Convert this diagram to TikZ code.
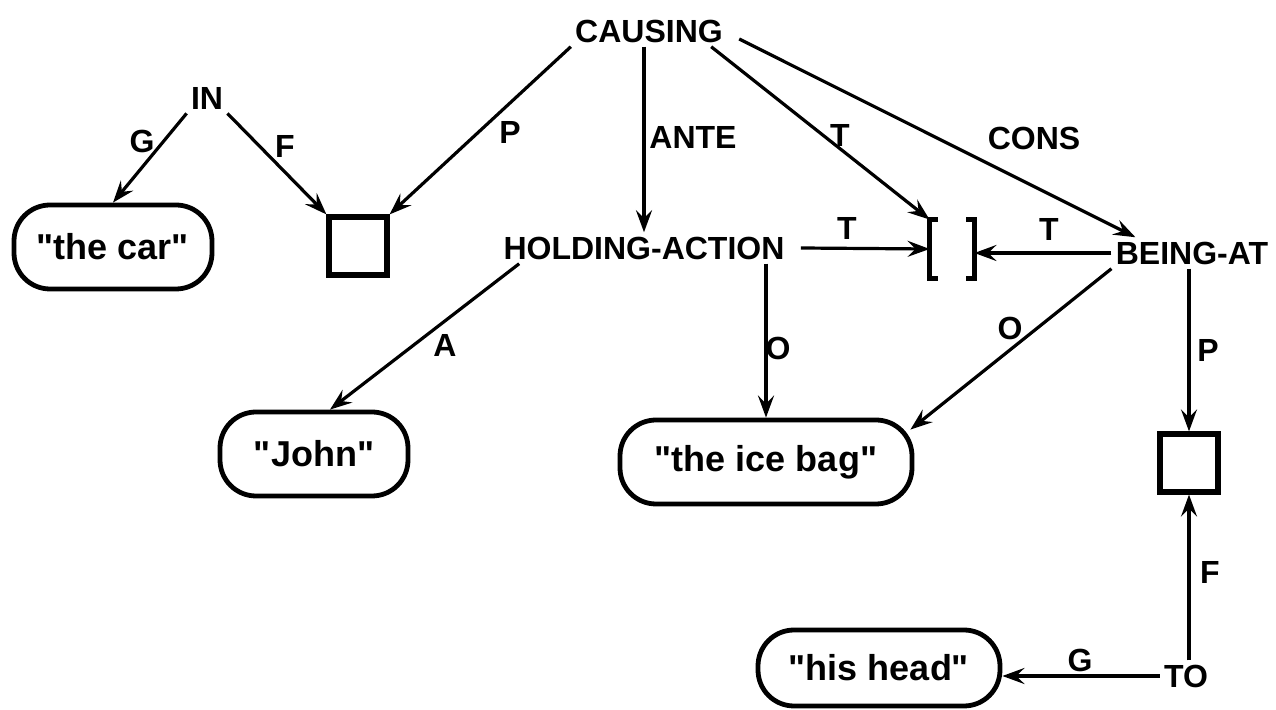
\documentclass[tikz,border=0pt]{standalone}
\usepackage{fontspec}
\setmainfont{Liberation Sans}[Ligatures=TeXOff]
\usetikzlibrary{arrows.meta}
\tikzset{
 word/.style={inner sep=2pt,font=\fontsize{16}{18}\selectfont\bfseries},
 lbl/.style={inner sep=0pt,font=\fontsize{16}{18}\selectfont\bfseries},
 quote/.style={draw,line width=2.4pt,rounded corners=18pt,minimum height=42pt,font=\fontsize{18}{20}\selectfont\bfseries},
 slot/.style={draw,line width=2.6pt,minimum size=29pt,inner sep=0pt},
 link/.style={line width=1.6pt,-{Stealth[length=11pt,width=8pt,inset=4pt]}}
}
\begin{document}
\begin{tikzpicture}[x=0.5pt,y=-0.5pt]
 \useasboundingbox (0,0) rectangle (1276,710);
 \node[word] (causing) at (649,31) {CAUSING};
 \node[word] (in) at (207,98) {IN};
 \node[quote,minimum width=99pt] (car) at (113,247) {"the car"};
 \node[slot] (lsq) at (358,246) {};
 \node[word] (holding) at (644,248) {HOLDING-ACTION};
 \node[inner sep=0pt,minimum width=22pt,minimum height=29pt] (br) at (952,249) {};
 \node[word] (being) at (1192,253) {BEING-AT};
 \node[quote,minimum width=94pt] (john) at (314,454) {"John"};
 \node[quote,minimum width=146pt] (icebag) at (766,462) {"the ice bag"};
 \node[slot] (rsq) at (1189,463) {};
 \node[word] (to) at (1186,676) {TO};
 \node[quote,minimum width=121pt,minimum height=38pt] (head) at (879,668) {"his head"};
 \draw[line width=2.6pt] ([xshift=4pt]br.north west) -- (br.north west) -- (br.south west) -- ([xshift=4pt]br.south west);
 \draw[line width=2.6pt] ([xshift=-4pt]br.north east) -- (br.north east) -- (br.south east) -- ([xshift=-4pt]br.south east);
 \draw[link] (causing.south west) -- (lsq.north east);
 \draw[link] (causing.south -| holding.north) -- (holding.north);
 \draw[link] ([xshift=-8pt]causing.south east) -- (br.north west);
 \draw[link] ([xshift=6pt,yshift=-4pt]causing.east) -- ([xshift=12pt]being.north west);
 \draw[link] (in.south west) -- (car.north);
 \draw[link] (in.south east) -- (lsq.north west);
 \draw[link] ([xshift=6pt]holding.east) -- (br.west);
 \draw[link] (being.west) -- (being.west -| br.east);
 \draw[link] ([xshift=10pt]holding.south west) -- ([xshift=8pt]john.north);
 \draw[link] (icebag.north |- holding.south) -- (icebag.north);
 \draw[link] (being.south west) -- ([xshift=-2pt,yshift=-6pt]icebag.north east);
 \draw[link] (being.south -| rsq.north) -- (rsq.north);
 \draw[link] (rsq.south |- to.north) -- (rsq.south);
 \draw[link] (to.west) -- (to.west -| head.east);
 \node[lbl] (lp1) at (510,132) {P};
 \node[lbl] (lante) at (693,137) {ANTE};
 \node[lbl] (lt1) at (840,135) {T};
 \node[lbl] (lcons) at (1034,138) {CONS};
 \node[lbl] (lg1) at (142,141) {G};
 \node[lbl] (lf1) at (285,146) {F};
 \node[lbl] (lt2) at (847,228) {T};
 \node[lbl] (lt3) at (1049,229) {T};
 \node[lbl] (la) at (445,345) {A};
 \node[lbl] (lo1) at (778,348) {O};
 \node[lbl] (lo2) at (1010,328) {O};
 \node[lbl] (lp2) at (1208,350) {P};
 \node[lbl] (lf2) at (1210,572) {F};
 \node[lbl] (lg2) at (1080,660) {G};
\end{tikzpicture}
\end{document}
